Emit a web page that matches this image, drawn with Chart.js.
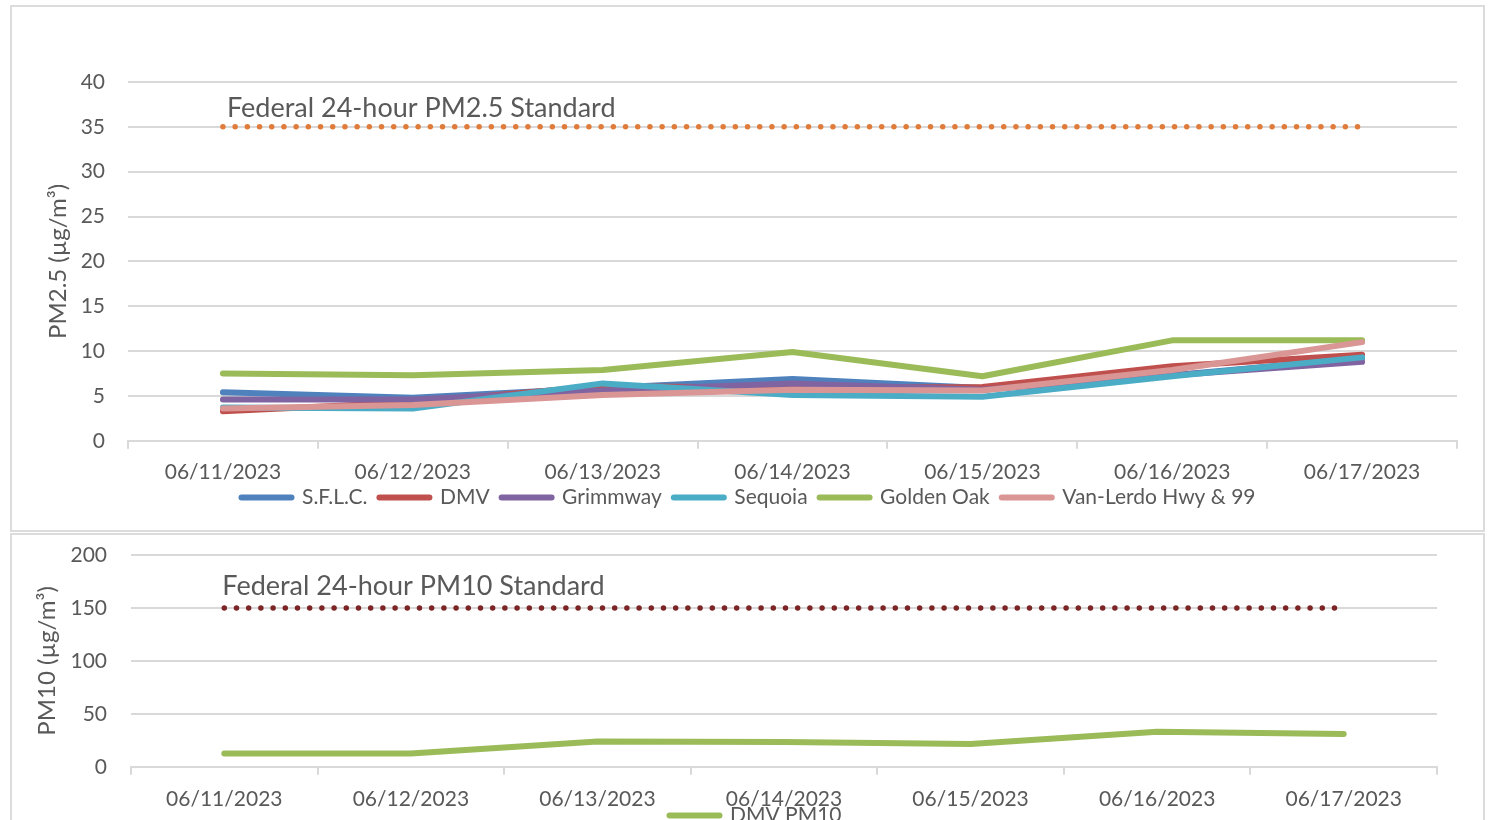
<!DOCTYPE html>
<html lang="en">
<head>
<meta charset="UTF-8">
<title>PM2.5 and PM10</title>
<script src="https://cdn.jsdelivr.net/npm/chart.js"></script>
<style>
  body { margin: 0; width: 1488px; height: 820px; overflow: hidden; background: #fff; position: relative; }
  .box { position: absolute; left: 10px; width: 1471px; border: 2px solid #dcdcdc; }
  #box1 { top: 5px; height: 523px; }
  #box2 { top: 533px; height: 320px; }
  canvas { position: absolute; left: 0; }
  #pm25 { top: 0; }
  #pm10 { top: 533px; }
</style>
</head>
<body>
<div class="box" id="box1"></div>
<div class="box" id="box2"></div>
<canvas id="pm25" width="1488" height="542"></canvas>
<canvas id="pm10" width="1488" height="335"></canvas>

<script>
  const dates = ['06/11/2023', '06/12/2023', '06/13/2023', '06/14/2023', '06/15/2023', '06/16/2023', '06/17/2023'];

  // PM2.5, ug/m3
  const sflc      = [5.4, 4.8, 5.9, 6.9, 5.9, 7.3, 9.2];
  const dmv       = [3.3, 4.3, 6.1, 5.9, 6.0, 8.3, 9.6];
  const grimmway  = [4.6, 4.6, 5.6, 6.4, 5.7, 7.3, 8.8];
  const sequoia   = [3.7, 3.6, 6.4, 5.1, 4.9, 7.2, 9.3];
  const goldenOak = [7.5, 7.3, 7.9, 9.9, 7.2, 11.2, 11.2];
  const vanLerdo  = [3.6, 4.0, 5.1, 5.7, 5.6, 7.9, 11.0];
  const pm25Standard = [35, 35, 35, 35, 35, 35, 35];

  // PM10, ug/m3
  const dmvPm10 = [12.5, 12.5, 24, 23.5, 21.5, 33, 31];
  const pm10Standard = [150, 150, 150, 150, 150, 150, 150];

  const pm25Ticks = { min: 0, max: 40, step: 5 };
  const pm10Ticks = { min: 0, max: 200, step: 50 };

  Chart.defaults.font.family = 'Lato';
  Chart.defaults.color = '#595959';

  const GRID = '#d9d9d9';

  // text over the dotted standard line
  const standardLabel = {
    id: 'standardLabel',
    afterDatasetsDraw(chart, args, opts) {
      const {ctx, scales: {x, y}} = chart;
      ctx.save();
      ctx.font = opts.size + 'px Lato';
      ctx.fillStyle = '#595959';
      ctx.textBaseline = 'middle';
      ctx.fillText(opts.text, x.getPixelForValue(0) + opts.dx, y.getPixelForValue(opts.value) + opts.dy);
      ctx.restore();
    }
  };

  // pull the legend up closer to the date labels (excel packs them tight)
  const legendShift = {
    id: 'legendShift',
    afterLayout(chart, args, opts) {
      const lg = chart.legend;
      lg.top -= opts.dy;
      lg.bottom -= opts.dy;
      lg.left += opts.dx;
      lg.right += opts.dx;
    }
  };

  function lineLegend(chart) {
    return chart.data.datasets
      .map((ds, i) => ({
        text: ds.label, strokeStyle: ds.borderColor, fillStyle: ds.borderColor,
        lineWidth: 6, lineCap: 'round', pointStyle: 'line',
        hidden: false, datasetIndex: i, fontColor: '#595959', standard: ds.standard
      }))
      .filter(item => !item.standard);
  }

  function series(label, data, color, i) {
    return {
      label: label, data: data, borderColor: color, backgroundColor: color,
      borderWidth: 6, borderCapStyle: 'round', borderJoinStyle: 'round',
      pointRadius: 0, tension: 0, order: 20 - i
    };
  }

  function standard(label, data, color) {
    return {
      label: label, data: data, borderColor: color, backgroundColor: color, standard: true,
      borderWidth: 5.5, borderCapStyle: 'round', borderDash: [0, 12.2],
      pointRadius: 0, order: 0
    };
  }

  // tick gap done with invisible tick marks: ticks.padding would also pad the top of the plot
  function scalesFor(ticks, yTitle, yWidth, titlePad, tickGap, xPad) {
    return {
      x: {
        type: 'category',
        offset: true,
        grid: { offset: true, drawOnChartArea: false, drawTicks: true, tickLength: 8, color: GRID, lineWidth: 2 },
        border: { color: GRID, width: 2 },
        ticks: { font: { size: 21 }, color: '#595959', padding: xPad, maxRotation: 0, autoSkip: false }
      },
      y: {
        min: ticks.min, max: ticks.max,
        grid: { color: GRID, lineWidth: 2, drawTicks: true, tickLength: tickGap, tickColor: 'rgba(0,0,0,0)' },
        border: { display: false },
        ticks: { stepSize: ticks.step, font: { size: 21 }, color: '#595959', padding: 0 },
        title: { display: true, text: yTitle, font: { size: 24 }, color: '#595959', padding: { top: titlePad, bottom: 0 } },
        afterFit: s => { s.width = yWidth; }
      }
    };
  }

  function legendFor() {
    return {
      position: 'bottom',
      labels: {
        usePointStyle: true, pointStyleWidth: 50, padding: 12,
        font: { size: 21 }, color: '#595959', generateLabels: lineLegend
      }
    };
  }

  new Chart(document.getElementById('pm25'), {
    type: 'line',
    data: {
      labels: dates,
      datasets: [
        series('S.F.L.C.', sflc, '#4f81bd', 0),
        series('DMV', dmv, '#c0504d', 1),
        series('Grimmway', grimmway, '#8064a2', 2),
        series('Sequoia', sequoia, '#4bacc6', 3),
        series('Golden Oak', goldenOak, '#9bbb59', 4),
        series('Van-Lerdo Hwy & 99', vanLerdo, '#d99694', 5),
        standard('Federal 24-hour PM2.5 Standard', pm25Standard, '#e07b39')
      ]
    },
    options: {
      responsive: false,
      animation: false,
      layout: { padding: { top: 82, right: 31, left: 0, bottom: 3 } },
      scales: scalesFor(pm25Ticks, 'PM2.5 (µg/m³)', 128, 44, 23, 11),
      plugins: {
        tooltip: { enabled: false },
        legend: legendFor(),
        legendShift: { dy: 21, dx: 20 },
        standardLabel: { text: 'Federal 24-hour PM2.5 Standard', value: 35, dx: 4, dy: -19, size: 27 }
      }
    },
    plugins: [standardLabel, legendShift]
  });

  new Chart(document.getElementById('pm10'), {
    type: 'line',
    data: {
      labels: dates,
      datasets: [
        series('DMV PM10', dmvPm10, '#9bbb59', 0),
        standard('Federal 24-hour PM10 Standard', pm10Standard, '#7b2525')
      ]
    },
    options: {
      responsive: false,
      animation: false,
      layout: { padding: { top: 22, right: 51, left: 0, bottom: 1 } },
      scales: scalesFor(pm10Ticks, 'PM10 (µg/m³)', 131, 33, 24, 12),
      plugins: {
        tooltip: { enabled: false },
        legend: legendFor(),
        legendShift: { dy: 31, dx: 37 },
        standardLabel: { text: 'Federal 24-hour PM10 Standard', value: 150, dx: -2, dy: -22, size: 27 }
      }
    },
    plugins: [standardLabel, legendShift]
  });
</script>
</body>
</html>
